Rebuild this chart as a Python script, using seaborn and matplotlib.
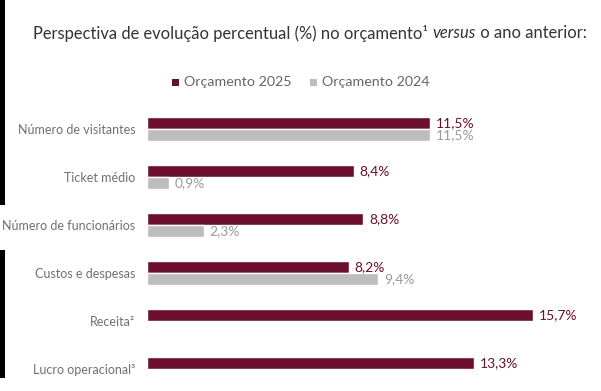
import matplotlib
matplotlib.use("Agg")
import matplotlib.pyplot as plt
import seaborn as sns
import pandas as pd
import numpy as np
from matplotlib.patches import Rectangle

categories = ["Número de visitantes", "Ticket médio", "Número de funcionários",
              "Custos e despesas", "Receita²", "Lucro operacional³"]
values_2025 = [11.5, 8.4, 8.8, 8.2, 15.7, 13.3]
values_2024 = [11.5, 0.9, 2.3, 9.4, np.nan, np.nan]
series = ["Orçamento 2025", "Orçamento 2024"]

MAROON = "#6b0f2e"
GRAY = "#bdbdbd"
GRAY_TXT = "#9a9a9a"

df = pd.DataFrame({
    "cat": categories * 2,
    "val": values_2025 + values_2024,
    "serie": [series[0]] * len(categories) + [series[1]] * len(categories),
})

sns.set_theme(style="white")
plt.rcParams["font.family"] = ["Lato", "DejaVu Sans"]

W, H = 601, 391
fig = plt.figure(figsize=(W / 100, H / 100), dpi=100)
ax = fig.add_axes([147 / W, 0, (W - 147) / W, (H - 105) / H])

sns.barplot(data=df, y="cat", x="val", hue="serie", orient="h",
            palette=[MAROON, GRAY], width=0.5, ax=ax, legend=False,
            order=categories, hue_order=series, saturation=1)

ax.set_xlim(0, (W - 147) / 24.6)
ax.set_ylim(-0.5 + (H - 105) / 48, -0.5)
ax.set_xlabel("")
ax.set_ylabel("")
ax.set_xticks([])
for s in ax.spines.values():
    s.set_visible(False)
ax.tick_params(axis="y", length=0, pad=8.5, labelsize=9, labelcolor="#707070")

for cont, col in zip(ax.containers, [MAROON, GRAY_TXT]):
    labels = ["" if np.isnan(v) else f"{v:.1f}%".replace(".", ",") for v in cont.datavalues]
    ax.bar_label(cont, labels=labels, padding=4, color=col, fontsize=10)

# left dark strip
fig.patches.append(Rectangle((0, 186 / H), 5 / W, 205 / H, transform=fig.transFigure,
                             facecolor="black", edgecolor="none", zorder=0))
fig.patches.append(Rectangle((0, 13 / H), 5 / W, 128 / H, transform=fig.transFigure,
                             facecolor="black", edgecolor="none", zorder=0))

# title with italic segment
fig.canvas.draw()
r = fig.canvas.get_renderer()
parts = [("Perspectiva de evolução percentual (%) no orçamento¹ ", "normal"),
         ("versus", "italic"),
         (" o ano anterior:", "normal")]
x = 33 / W
ty = 1 - 33 / H
for txt, st in parts:
    t = fig.text(x, ty, txt, fontsize=11.9, color="#333333", style=st, va="center", ha="left")
    bb = t.get_window_extent(r)
    x += bb.width / W

# legend
ly = 1 - 82 / H
for sx, lab, col in [(175, series[0], MAROON), (313, series[1], GRAY)]:
    fig.patches.append(Rectangle(((sx - 3) / W, ly - 3.5 / H), 7 / W, 7 / H,
                                 transform=fig.transFigure, facecolor=col, edgecolor="none"))
    fig.text((sx + 9) / W, ly, lab, fontsize=10.3, color="#666666", va="center", ha="left")

fig.savefig("out.png", dpi=100)
